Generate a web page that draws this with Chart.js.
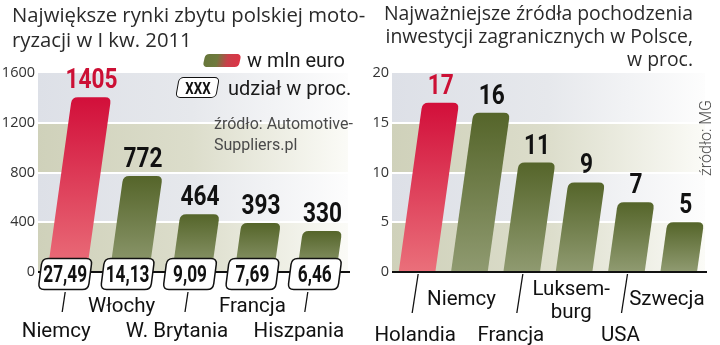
<!DOCTYPE html>
<html><head><meta charset="utf-8">
<script src="https://cdn.jsdelivr.net/npm/chart.js@4/dist/chart.umd.min.js"></script>
<style>
html,body{margin:0;padding:0;background:#fff;}
body{width:720px;height:345px;position:relative;overflow:hidden;}
.abs{position:absolute;white-space:nowrap;}
.title{font-family:"Open Sans",sans-serif;color:#2a2a2a;}
.rob{font-family:Roboto,sans-serif;color:#1a1a1a;}
</style></head>
<body>
<div class="abs" style="left:0;top:0;width:360px;height:345px;"><canvas id="cL" width="360" height="345"></canvas></div>
<div class="abs" style="left:360px;top:0;width:360px;height:345px;"><canvas id="cR" width="360" height="345"></canvas></div>

<div class="abs title" style="left:12px;top:1.5px;font-size:20.3px;line-height:25px;">Największe rynki zbytu polskiej moto-<br>ryzacji w I kw. 2011</div>
<div class="abs title" style="right:27px;top:1px;font-size:19.4px;line-height:23px;text-align:right;">Najważniejsze źródła pochodzenia<br>inwestycji zagranicznych w Polsce,<br>w proc.</div>

<div class="abs" style="left:204px;top:54px;width:36px;height:13px;border-radius:4px;transform:skewX(-12deg);background:linear-gradient(to right,#67763a 0%,#6f7a3e 35%,#c8404a 65%,#dc3446 100%);"></div>
<div class="abs rob" style="left:247px;top:50px;font-size:20px;line-height:20px;">w mln euro</div>
<div class="abs" style="left:177px;top:77px;width:39px;height:19px;border:1.5px solid #111;border-radius:5px;transform:skewX(-10deg);background:#fff;"></div>
<div class="abs" style="left:177px;top:77px;width:42px;height:22px;line-height:22px;text-align:center;font-family:Roboto,sans-serif;font-weight:bold;font-size:17px;color:#111;transform:scaleX(0.78);">XXX</div>
<div class="abs rob" style="left:228px;top:78px;font-size:20px;line-height:20px;">udział w proc.</div>
<div class="abs rob" style="left:214px;top:113px;font-size:16px;line-height:21px;color:#4a4a4a;">źródło: Automotive-<br>Suppliers.pl</div>
<div class="abs rob" style="left:706px;top:138px;font-size:16px;line-height:16px;color:#4a4a4a;font-weight:300;transform:translate(-50%,-50%) rotate(-90deg);">źródło: MG</div>

<script>
// ---------- DATA ----------
const leftCategories = ['Niemcy', 'Włochy', 'W. Brytania', 'Francja', 'Hiszpania'];
const leftValues = [1405, 772, 464, 393, 330];
const leftShares = ['27,49', '14,13', '9,09', '7,69', '6,46'];
const leftTicks = [0, 400, 800, 1200, 1600];

const rightCategories = ['Holandia', 'Niemcy', 'Francja', ['Luksem-', 'burg'], 'USA', 'Szwecja'];
const rightValues = [17, 16, 11, 9, 7, 5];
const rightTicks = [0, 5, 10, 15, 20];

// ---------- LAYOUT (positions of category labels, not data) ----------
const leftLabelLayout = [
  {dx: -11, base: 337, line: -2}, {dx: -8, base: 312}, {dx: -15, base: 337, line: -4},
  {dx: -2, base: 312}, {dx: -18, base: 337, line: -9}
];
const rightLabelLayout = [
  {dx: -2, base: [341], line: 1}, {dx: -8, base: [305]}, {dx: -11, base: [341], line: 1},
  {dx: -3, base: [295, 318]}, {dx: -6, base: [341], line: 1}, {dx: -12, base: [305]}
];

const SLANT = 0.14;

function narrowText(ctx, text, x, y, sx) {
  ctx.save(); ctx.translate(x, y); ctx.scale(sx, 1); ctx.fillText(text, 0, 0); ctx.restore();
}

function bandGradient(ctx, a, beige) {
  const g = ctx.createLinearGradient(a.left, 0, a.right, 0);
  if (beige) {
    g.addColorStop(0, '#cfd1ba'); g.addColorStop(0.5, '#dcddcb'); g.addColorStop(1, '#fbfbf7');
  } else {
    g.addColorStop(0, '#dde0e7'); g.addColorStop(0.5, '#e6e8ec'); g.addColorStop(1, '#fdfdfd');
  }
  return g;
}

function roundedSlant(ctx, bl, br, tr, tl, r) {
  const lx = tl.x - bl.x, ly = tl.y - bl.y, ll = Math.hypot(lx, ly);
  const ux = lx / ll, uy = ly / ll;
  ctx.beginPath();
  ctx.moveTo(bl.x, bl.y);
  ctx.lineTo(tl.x - ux * r, tl.y - uy * r);
  ctx.quadraticCurveTo(tl.x, tl.y, tl.x + r, tl.y);
  ctx.lineTo(tr.x - r, tr.y);
  ctx.quadraticCurveTo(tr.x, tr.y, tr.x - ux * r, tr.y - uy * r);
  ctx.lineTo(br.x, br.y);
  ctx.closePath();
}

function roundedPara(ctx, cx, cy, w, h, sh, r) {
  const bl = {x: cx - w / 2 - sh / 2, y: cy + h / 2}, br = {x: cx + w / 2 - sh / 2, y: cy + h / 2};
  const tl = {x: cx - w / 2 + sh / 2, y: cy - h / 2}, tr = {x: cx + w / 2 + sh / 2, y: cy - h / 2};
  const ll = Math.hypot(sh, h), ux = sh / ll, uy = -h / ll;
  ctx.beginPath();
  ctx.moveTo(bl.x + r, bl.y);
  ctx.quadraticCurveTo(bl.x, bl.y, bl.x + ux * r, bl.y + uy * r);
  ctx.lineTo(tl.x - ux * r, tl.y - uy * r);
  ctx.quadraticCurveTo(tl.x, tl.y, tl.x + r, tl.y);
  ctx.lineTo(tr.x - r, tr.y);
  ctx.quadraticCurveTo(tr.x, tr.y, tr.x - ux * r, tr.y - uy * r);
  ctx.lineTo(br.x + ux * r, br.y + uy * r);
  ctx.quadraticCurveTo(br.x, br.y, br.x - r, br.y);
  ctx.closePath();
}

function makePlugin(opts) {
  return {
    id: 'slantBars',
    beforeDraw(chart) {
      const {ctx, chartArea: a, scales: {y}} = chart;
      const vals = opts.ticks;
      ctx.save();
      for (let i = 0; i < vals.length - 1; i++) {
        const yb = y.getPixelForValue(vals[i]);
        const yt = y.getPixelForValue(vals[i + 1]);
        ctx.fillStyle = bandGradient(ctx, a, i % 2 === 0);
        ctx.fillRect(a.left + opts.bgInset, yt, a.right - a.left - opts.bgInset, yb - yt);
      }
      ctx.restore();
    },
    afterDatasetsDraw(chart) {
      const {ctx, chartArea: a} = chart;
      const meta = chart.getDatasetMeta(0);
      const values = chart.data.datasets[0].data;
      ctx.save();
      meta.data.forEach((el, i) => {
        const {x, y, base, width} = el.getProps(['x', 'y', 'base', 'width'], true);
        const h = base - y, off = h * SLANT, w = width;
        const bl = {x: x - w / 2, y: base}, br = {x: x + w / 2, y: base};
        const tl = {x: x - w / 2 + off, y: y}, tr = {x: x + w / 2 + off, y: y};
        const g = ctx.createLinearGradient(0, y, 0, base);
        if (i === 0) { g.addColorStop(0, '#d20f3a'); g.addColorStop(1, '#ea6f7a'); }
        else { g.addColorStop(0, '#55652a'); g.addColorStop(1, '#8f9a70'); }
        ctx.fillStyle = g;
        roundedSlant(ctx, bl, br, tr, tl, 6);
        ctx.fill();
        ctx.font = 'bold 27px Roboto, sans-serif';
        ctx.textAlign = 'center';
        ctx.textBaseline = 'alphabetic';
        ctx.fillStyle = i === 0 ? '#cc1035' : '#111';
        narrowText(ctx, String(values[i]), x + off, y - 9, 0.84);
      });
      const y0 = chart.scales.y.getPixelForValue(0);
      ctx.strokeStyle = '#111';
      ctx.lineWidth = 2.2;
      ctx.beginPath();
      ctx.moveTo(a.left + opts.bgInset, y0); ctx.lineTo(a.right + 2, y0);
      ctx.stroke();
      ctx.restore();
    },
    afterDraw(chart) {
      const {ctx, scales: {x}} = chart;
      const y0 = chart.scales.y.getPixelForValue(0);
      ctx.save();
      const labels = chart.data.labels;
      labels.forEach((lab, i) => {
        const cx = x.getPixelForValue(i);
        const L = opts.layout[i];
        if (opts.shares) {
          roundedPara(ctx, cx - 2, y0 + 2, 50, 31, 4, 6);
          ctx.fillStyle = '#fff'; ctx.fill();
          ctx.strokeStyle = '#111'; ctx.lineWidth = 1.5; ctx.stroke();
          ctx.font = 'bold 23px Roboto, sans-serif';
          ctx.fillStyle = '#111'; ctx.textAlign = 'center'; ctx.textBaseline = 'alphabetic';
          narrowText(ctx, opts.shares[i], cx - 2, y0 + 10, 0.75);
          if (L.line !== undefined) {
            ctx.beginPath(); ctx.lineWidth = 1.3;
            ctx.moveTo(cx + L.line, y0 + 20); ctx.lineTo(cx + L.line - 3, y0 + 40); ctx.stroke();
          }
        } else if (L.line !== undefined) {
          ctx.strokeStyle = '#111'; ctx.lineWidth = 1.3;
          ctx.beginPath(); ctx.moveTo(cx + L.line, y0 + 2); ctx.lineTo(cx + L.line - 6, y0 + 41); ctx.stroke();
        }
        ctx.font = '20.5px Roboto, sans-serif';
        ctx.fillStyle = '#111'; ctx.textAlign = 'center'; ctx.textBaseline = 'alphabetic';
        const lines = Array.isArray(lab) ? lab : [lab];
        const bases = Array.isArray(L.base) ? L.base : [L.base];
        lines.forEach((t, k) => ctx.fillText(t, cx + L.dx, bases[k]));
      });
      ctx.restore();
    }
  };
}

function makeChart(id, cats, vals, ticks, opts) {
  return new Chart(document.getElementById(id), {
    type: 'bar',
    data: {
      labels: cats,
      datasets: [{data: vals, backgroundColor: 'rgba(0,0,0,0)', borderWidth: 0,
        barPercentage: opts.barPct, categoryPercentage: 1}]
    },
    options: {
      responsive: false, devicePixelRatio: 1, animation: false,
      layout: {padding: {top: 73, bottom: 73, left: 0, right: opts.padRight}},
      plugins: {legend: {display: false}, tooltip: {enabled: false}},
      scales: {
        x: {display: false},
        y: {
          min: ticks[0], max: ticks[ticks.length - 1],
          afterFit(s) { s.width = opts.yWidth; },
          afterBuildTicks(s) { s.ticks = ticks.map(v => ({value: v})); },
          border: {display: false},
          grid: {drawTicks: false, lineWidth: 2,
            color: c => (c.tick && (c.tick.value === ticks[0] || c.tick.value === ticks[ticks.length - 1])) ? 'rgba(0,0,0,0)' : '#ffffff'},
          ticks: {padding: opts.tickPad, color: '#333', callback: v => String(v),
            font: {family: '"Open Sans", sans-serif', size: 14.5}}
        }
      }
    },
    plugins: [makePlugin(opts)]
  });
}

const charts = [
  makeChart('cL', leftCategories, leftValues, leftTicks,
    {barPct: 0.63, yWidth: 36, tickPad: 1, bgInset: 2, padRight: 12, layout: leftLabelLayout, shares: leftShares, ticks: leftTicks}),
  makeChart('cR', rightCategories, rightValues, rightTicks,
    {barPct: 0.7, yWidth: 31, tickPad: 2, bgInset: 1, padRight: 15, layout: rightLabelLayout, shares: null, ticks: rightTicks})
];
if (document.fonts && document.fonts.ready) {
  document.fonts.ready.then(() => charts.forEach(c => c.update()));
}
</script>
</body></html>
